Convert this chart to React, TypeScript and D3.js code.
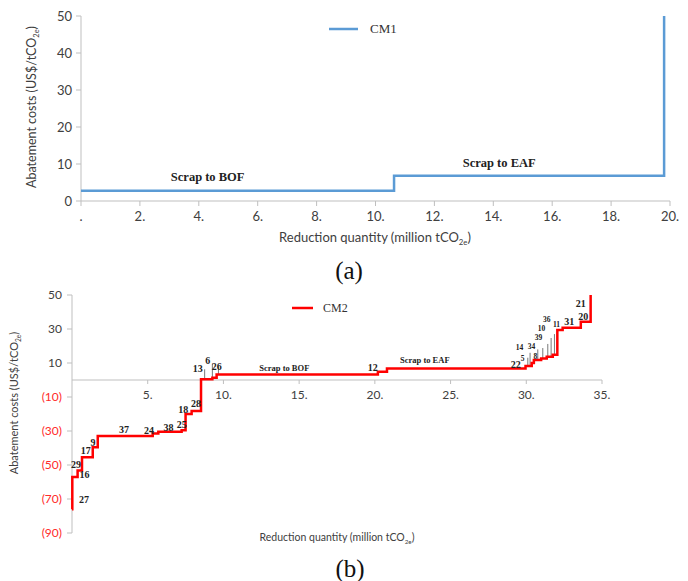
import * as d3 from 'd3';
import React from 'react';

// Panel (a): CM1 step curve (start x of each step, cost of the step)
const cm1X = [0, 10.63, 19.8];
const cm1Cost = [2.8, 6.8, 50];
const xTicksA = [0, 2, 4, 6, 8, 10, 12, 14, 16, 18, 20];
const yTicksA = [0, 10, 20, 30, 40, 50];

// Panel (b): CM2 step curve
const cm2X = [0, 0.02, 0.37, 0.66, 1.37, 1.7, 5.33, 5.7, 7.24, 7.5, 7.9, 8.52, 9.27, 9.55, 20.2, 20.8, 29.95, 30.36, 30.5, 30.98, 31.35, 31.75, 32.05, 32.4, 33.6, 34.25];
const cm2Cost = [-76, -57, -53.3, -45.5, -39.6, -33, -31.5, -30.5, -29.5, -20, -18.2, 0.5, 1.3, 3.2, 4.9, 6.8, 8.2, 10, 11.8, 12.7, 13.7, 14.9, 29.4, 30.8, 34.3, 50];
const xTicksB = [0, 5, 10, 15, 20, 25, 30, 35];
const yTicksB = [50, 30, 10, -10, -30, -50, -70, -90];

// measure labels (name, x, y in data units)
const measureNames = ['27', '29', '16', '17', '9', '37', '24', '38', '25', '18', '28', '13', '6', '26', '12', '22', '31', '20', '21'];
const measureLabelX = [0.8, 0.26, 0.83, 0.9, 1.39, 3.43, 5.08, 6.38, 7.24, 7.35, 8.19, 8.3, 8.96, 9.56, 19.86, 29.3, 32.83, 33.77, 33.6];
const measureLabelY = [-70, -49.5, -55.5, -41.4, -36.6, -29.2, -29.6, -27.8, -26.3, -17.6, -14.1, 6.9, 11.2, 8.2, 7.2, 9.2, 34.7, 37.6, 45.1];

// crowded labels in the upper cluster (smaller type)
const clusterNames = ['14', '5', '34', '8', '39', '10', '36', '11'];
const clusterX = [29.55, 29.75, 30.35, 30.6, 30.8, 31.0, 31.35, 32.0];
const clusterY = [19, 13, 19.5, 14, 25, 30.3, 35.5, 33];

// leader lines (x, from y, to y)
const leaderX = [8.76, 9.27, 9.67, 30.1, 30.25, 30.76, 31.09, 31.42, 31.64, 31.86];
const leaderY0 = [0.5, 1.3, 3.5, 8.2, 8.5, 11.8, 12.7, 13.7, 13.7, 14.9];
const leaderY1 = [6.3, 9.4, 8.2, 13.1, 16, 18, 18.8, 21.2, 24.7, 27];

const SANS = 'Lato, "Liberation Sans", sans-serif';
const SERIF = '"Liberation Serif", "DejaVu Serif", serif';
const AXIS = '#bfbfbf';
const TXT = '#404040';

const YTitle = ({ x, y, size }: { x: number; y: number; size: number }) => (
  <text transform={`translate(${x},${y}) rotate(-90)`} textAnchor="middle" fontFamily={SANS} fontSize={size} fill={TXT}>
    Abatement costs (US$/tCO<tspan fontSize={size * 0.6} dy={3}>2e</tspan><tspan dy={-3}>)</tspan>
  </text>
);

const XTitle = ({ x, y, size }: { x: number; y: number; size: number }) => (
  <text x={x} y={y} textAnchor="middle" fontFamily={SANS} fontSize={size} fill={TXT}>
    Reduction quantity (million tCO<tspan fontSize={size * 0.6} dy={3}>2e</tspan><tspan dy={-3}>)</tspan>
  </text>
);

export default function App() {
  const xA = d3.scaleLinear().domain([0, 20]).range([81, 670]);
  const yA = d3.scaleLinear().domain([0, 50]).range([201, 16]);
  const xB = d3.scaleLinear().domain([0, 35]).range([72, 602]);
  const yB = d3.scaleLinear().domain([-90, 50]).range([533, 295]);

  const lineA = d3.line<number>()
    .x((_, i) => xA(cm1X[i]))
    .y(d => yA(d))
    .curve(d3.curveStepAfter);
  const lineB = d3.line<number>()
    .x((_, i) => xB(cm2X[i]))
    .y(d => yB(d))
    .curve(d3.curveStepAfter);

  return (
    <div style={{ position: 'absolute', left: 0, top: 0 }}>
      <svg width={688} height={581} style={{ display: 'block', background: '#fff' }}>
        {/* ---------- panel (a) ---------- */}
        <line x1={xA(0)} x2={xA(0)} y1={yA(50)} y2={yA(0)} stroke={AXIS} />
        <line x1={xA(0)} x2={xA(20)} y1={yA(0)} y2={yA(0)} stroke={AXIS} />
        {yTicksA.map(t => (
          <g key={t}>
            <line x1={xA(0) - 5} x2={xA(0)} y1={yA(t)} y2={yA(t)} stroke={AXIS} />
            <text x={xA(0) - 9} y={yA(t)} dy="0.35em" textAnchor="end" fontFamily={SANS} fontSize={13} fill={TXT}>{t}</text>
          </g>
        ))}
        {xTicksA.map(t => (
          <g key={t}>
            <line x1={xA(t)} x2={xA(t)} y1={yA(0)} y2={yA(0) + 5} stroke={AXIS} />
            <text x={xA(t)} y={yA(0) + 20} textAnchor="middle" fontFamily={SANS} fontSize={13} fill={TXT}>{t === 0 ? '.' : `${t}.`}</text>
          </g>
        ))}
        <path d={lineA(cm1Cost) || ''} fill="none" stroke="#5b9bd5" strokeWidth={2.5} />
        <text x={xA(4.3)} y={yA(5.3)} textAnchor="middle" fontFamily={SERIF} fontWeight="bold" fontSize={12.5} fill="#222">Scrap to BOF</text>
        <text x={xA(14.2)} y={yA(9.2)} textAnchor="middle" fontFamily={SERIF} fontWeight="bold" fontSize={12.5} fill="#222">Scrap to EAF</text>
        <line x1={329} x2={358} y1={29} y2={29} stroke="#5b9bd5" strokeWidth={2.5} />
        <text x={370} y={33} fontFamily={SERIF} fontSize={13} fill="#333">CM1</text>
        <YTitle x={36} y={107} size={12.5} />
        <XTitle x={375} y={242} size={13} />
        <text x={349} y={279} textAnchor="middle" fontFamily={SERIF} fontSize={25} fill="#111">(a)</text>

        {/* ---------- panel (b) ---------- */}
        <line x1={xB(0)} x2={xB(0)} y1={yB(50)} y2={yB(-90)} stroke={AXIS} />
        <line x1={xB(0)} x2={xB(35)} y1={yB(0)} y2={yB(0)} stroke={AXIS} />
        {yTicksB.map(t => (
          <g key={t}>
            <line x1={xB(0) - 5} x2={xB(0)} y1={yB(t)} y2={yB(t)} stroke={AXIS} />
            <text x={xB(0) - 10} y={yB(t)} dy="0.35em" textAnchor="end" fontFamily={SANS} fontSize={12} fill={t < 0 ? '#ff2a2a' : TXT}>{t < 0 ? `(${-t})` : t}</text>
          </g>
        ))}
        {xTicksB.filter(t => t > 0).map(t => (
          <g key={t}>
            <line x1={xB(t)} x2={xB(t)} y1={yB(0)} y2={yB(0) + 4} stroke={AXIS} />
            <text x={xB(t)} y={yB(0) + 19} textAnchor="middle" fontFamily={SANS} fontSize={12} fill={TXT}>{`${t}.`}</text>
          </g>
        ))}
        {leaderX.map((lx, i) => (
          <line key={i} x1={xB(lx)} x2={xB(lx)} y1={yB(leaderY0[i])} y2={yB(leaderY1[i])} stroke="#555" strokeWidth={0.8} />
        ))}
        <path d={lineB(cm2Cost) || ''} fill="none" stroke="#ff0000" strokeWidth={2.5} />
        {measureNames.map((n, i) => (
          <text key={i} x={xB(measureLabelX[i])} y={yB(measureLabelY[i])} dy="0.35em" textAnchor="middle" fontFamily={SERIF} fontWeight="bold" fontSize={10} fill="#222">{n}</text>
        ))}
        {clusterNames.map((n, i) => (
          <text key={n} x={xB(clusterX[i])} y={yB(clusterY[i])} dy="0.35em" textAnchor="middle" fontFamily={SERIF} fontWeight="bold" fontSize={7.5} fill="#222">{n}</text>
        ))}
        <text x={xB(14.02)} y={yB(7.2)} dy="0.35em" textAnchor="middle" fontFamily={SERIF} fontWeight="bold" fontSize={8.5} fill="#222">Scrap to BOF</text>
        <text x={xB(23.3)} y={yB(11.8)} dy="0.35em" textAnchor="middle" fontFamily={SERIF} fontWeight="bold" fontSize={8.5} fill="#222">Scrap to EAF</text>
        <line x1={292} x2={313} y1={308} y2={308} stroke="#ff0000" strokeWidth={2.5} />
        <text x={323} y={312} fontFamily={SERIF} fontSize={12} fill="#333">CM2</text>
        <YTitle x={18} y={403} size={11} />
        <XTitle x={337} y={541} size={10.5} />
        <text x={350} y={577} textAnchor="middle" fontFamily={SERIF} fontSize={25} fill="#111">(b)</text>
      </svg>
    </div>
  );
}
